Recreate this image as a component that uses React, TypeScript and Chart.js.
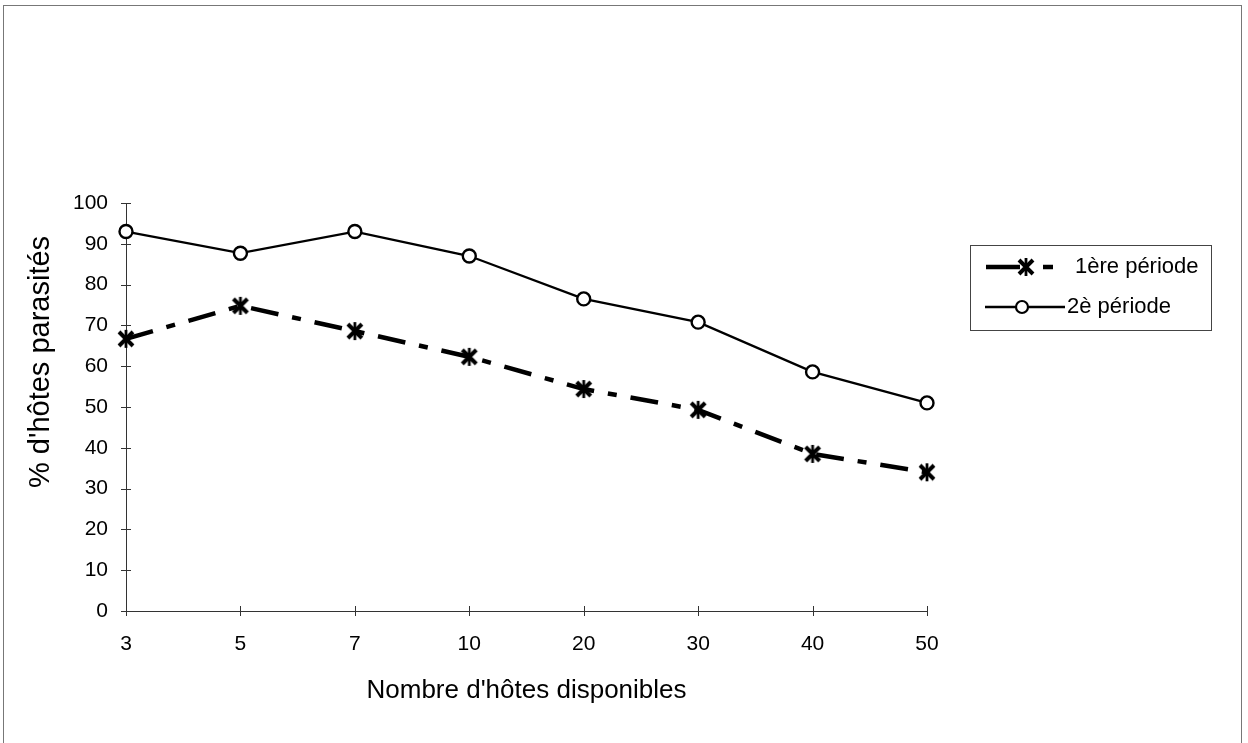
import React, { useEffect, useRef } from "react";
import { Chart, registerables } from "chart.js";

Chart.register(...registerables);

const categories = ["3", "5", "7", "10", "20", "30", "40", "50"];
const periode1 = [66.7, 74.8, 68.6, 62.3, 54.4, 49.3, 38.5, 34];
const periode2 = [93, 87.7, 93, 87, 76.5, 70.8, 58.6, 51];
const seriesNames = ["1ère période", "2è période"];
const yTicks = [0, 10, 20, 30, 40, 50, 60, 70, 80, 90, 100];
const xTitle = "Nombre d'hôtes disponibles";
const yTitle = "% d'hôtes parasités";

const FONT = "'Liberation Sans', Arial, sans-serif";

function makeStar(): HTMLCanvasElement {
  const c = document.createElement("canvas");
  c.width = 20;
  c.height = 20;
  const g = c.getContext("2d")!;
  g.strokeStyle = "#000";
  g.lineWidth = 4;
  g.lineCap = "butt";
  g.beginPath();
  g.moveTo(3, 3);
  g.lineTo(17, 17);
  g.moveTo(17, 3);
  g.lineTo(3, 17);
  g.stroke();
  g.lineWidth = 2.8;
  g.beginPath();
  g.moveTo(10, 1);
  g.lineTo(10, 19);
  g.stroke();
  return c;
}

export default function App() {
  const ref = useRef<HTMLCanvasElement>(null);

  useEffect(() => {
    const star = makeStar();

    const framePlugin = {
      id: "frame",
      beforeDraw(chart: any) {
        const ctx = chart.ctx;
        ctx.save();
        ctx.fillStyle = "#fff";
        ctx.fillRect(0, 0, chart.width, chart.height);
        ctx.strokeStyle = "#777";
        ctx.lineWidth = 1;
        ctx.strokeRect(3.5, 5.5, 1238, 760);
        ctx.restore();
      },
    };

    const tickPlugin = {
      id: "crossTicks",
      afterDraw(chart: any) {
        const ctx = chart.ctx;
        const xs = chart.scales.x;
        const ys = chart.scales.y;
        ctx.save();
        ctx.strokeStyle = "#333";
        ctx.lineWidth = 1;
        ctx.beginPath();
        ys.ticks.forEach((_t: any, i: number) => {
          const y = Math.round(ys.getPixelForTick(i)) + 0.5;
          ctx.moveTo(ys.right - 5, y);
          ctx.lineTo(ys.right + 5, y);
        });
        xs.ticks.forEach((_t: any, i: number) => {
          const x = Math.round(xs.getPixelForTick(i)) + 0.5;
          ctx.moveTo(x, xs.top - 5);
          ctx.lineTo(x, xs.top + 5);
        });
        ctx.stroke();
        // y axis title
        ctx.fillStyle = "#000";
        ctx.font = `29px ${FONT}`;
        ctx.textAlign = "center";
        ctx.textBaseline = "middle";
        ctx.translate(41, 362);
        ctx.rotate(-Math.PI / 2);
        ctx.fillText(yTitle, 0, 0);
        ctx.restore();
      },
    };

    const legendPlugin = {
      id: "boxLegend",
      afterDraw(chart: any) {
        const ctx = chart.ctx;
        const ds = chart.data.datasets;
        ctx.save();
        ctx.strokeStyle = "#444";
        ctx.lineWidth = 1;
        ctx.strokeRect(970.5, 245.5, 241, 85);
        // row 1
        const y1 = 267;
        ctx.strokeStyle = "#000";
        ctx.lineWidth = ds[0].borderWidth;
        ctx.beginPath();
        ctx.moveTo(986, y1);
        ctx.lineTo(1020, y1);
        ctx.moveTo(1043, y1);
        ctx.lineTo(1053, y1);
        ctx.stroke();
        ctx.drawImage(star, 1026 - 10, y1 - 10);
        // row 2
        const y2 = 307;
        ctx.lineWidth = ds[1].borderWidth;
        ctx.beginPath();
        ctx.moveTo(985, y2);
        ctx.lineTo(1065, y2);
        ctx.stroke();
        ctx.beginPath();
        ctx.arc(1022, y2, 6, 0, Math.PI * 2);
        ctx.fillStyle = "#fff";
        ctx.fill();
        ctx.lineWidth = 2.2;
        ctx.stroke();
        ctx.fillStyle = "#000";
        ctx.font = `22px ${FONT}`;
        ctx.textBaseline = "middle";
        ctx.fillText(ds[0].label, 1075, y1);
        ctx.fillText(ds[1].label, 1067, y2);
        ctx.restore();
      },
    };

    const chart = new Chart(ref.current!, {
      type: "line",
      data: {
        labels: categories,
        datasets: [
          {
            label: seriesNames[0],
            data: periode1,
            borderColor: "#000",
            borderWidth: 4.5,
            borderDash: [28, 14, 9, 14],
            pointStyle: star as any,
            pointRadius: 9,
            pointBackgroundColor: "#000",
            pointBorderColor: "#000",
            fill: false,
            tension: 0,
            clip: false as any,
          },
          {
            label: seriesNames[1],
            data: periode2,
            borderColor: "#000",
            borderWidth: 2.3,
            pointStyle: "circle",
            pointRadius: 6.5,
            pointBorderWidth: 2.4,
            pointBackgroundColor: "#fff",
            pointBorderColor: "#000",
            fill: false,
            tension: 0,
            clip: false as any,
          },
        ],
      },
      options: {
        animation: false,
        responsive: false,
        devicePixelRatio: 1,
        layout: { padding: { top: 203, right: 321, left: 0, bottom: 0 } },
        plugins: { legend: { display: false }, tooltip: { enabled: false } },
        scales: {
          x: {
            type: "category",
            offset: false,
            grid: { display: false, drawTicks: false, offset: false },
            border: { display: true, color: "#333", width: 1 },
            ticks: {
              color: "#000",
              font: { family: FONT, size: 21 },
              padding: 21,
              maxRotation: 0,
              autoSkip: false,
            },
            title: {
              display: true,
              text: xTitle,
              color: "#000",
              font: { family: FONT, size: 26 },
              padding: { top: 0, bottom: 37 },
            },
            afterFit(scale: any) {
              scale.height = 132;
            },
          },
          y: {
            min: 0,
            max: 100,
            grid: { display: false, drawTicks: false },
            border: { display: true, color: "#333", width: 1 },
            afterBuildTicks(scale: any) {
              scale.ticks = yTicks.map((v) => ({ value: v }));
            },
            ticks: {
              color: "#000",
              font: { family: FONT, size: 21 },
              padding: 18,
            },
            title: { display: false, text: yTitle },
            afterFit(scale: any) {
              scale.width = 126;
            },
          },
        },
      },
      plugins: [framePlugin, tickPlugin, legendPlugin],
    });
    return () => chart.destroy();
  }, []);

  return (
    <div style={{ position: "fixed", left: 0, top: 0, width: 1248, height: 743, background: "#fff" }}>
      <canvas ref={ref} width={1248} height={743} style={{ display: "block" }} />
    </div>
  );
}
